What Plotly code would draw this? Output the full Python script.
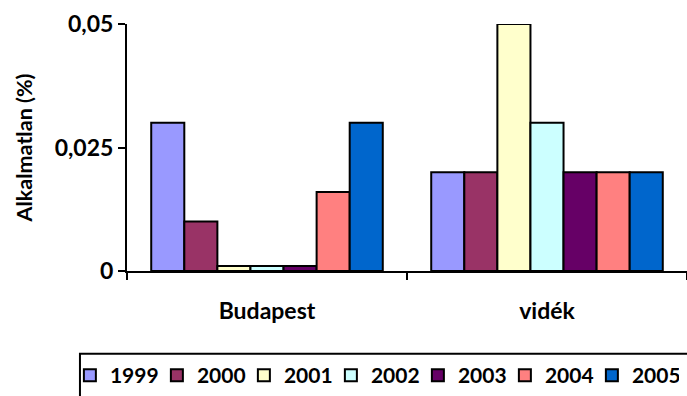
import plotly.graph_objects as go

categories = ["Budapest", "vidék"]
years = ["1999", "2000", "2001", "2002", "2003", "2004", "2005"]
values = {
    "1999": [0.03, 0.02],
    "2000": [0.01, 0.02],
    "2001": [0.001, 0.05],
    "2002": [0.001, 0.03],
    "2003": [0.001, 0.02],
    "2004": [0.016, 0.02],
    "2005": [0.03, 0.02],
}
colors = ["#9999FF", "#993366", "#FFFFCC", "#CCFFFF", "#660066", "#FF8080", "#0066CC"]
y_ticks = [0, 0.025, 0.05]
y_tick_labels = ["0", "0,025", "0,05"]

FONT = "Lato, 'Open Sans', sans-serif"

fig = go.Figure()
for year, color in zip(years, colors):
    fig.add_trace(go.Bar(
        x=categories,
        y=values[year],
        name=year,
        marker=dict(color=color, line=dict(color="black", width=2)),
    ))

# frame around the legend row
fig.add_shape(
    type="rect", xref="paper", yref="paper",
    x0=-0.084, x1=1.02, y0=-0.53, y1=-0.335,
    line=dict(color="black", width=2), fillcolor="rgba(0,0,0,0)",
)

fig.update_layout(
    width=687,
    height=396,
    margin=dict(l=127, r=0, t=24, b=124),
    paper_bgcolor="white",
    plot_bgcolor="white",
    barmode="group",
    bargap=0.173,
    bargroupgap=0,
    font=dict(family=FONT, size=16, color="black", weight="bold"),
    showlegend=True,
    legend=dict(
        orientation="h",
        x=-0.102,
        xanchor="left",
        y=-0.423,
        yanchor="middle",
        borderwidth=0,
        bgcolor="rgba(0,0,0,0)",
        font=dict(family=FONT, size=21, color="black", weight="bold"),
        entrywidth=42,
        entrywidthmode="pixels",
        itemwidth=30,
        traceorder="normal",
    ),
    xaxis=dict(
        showline=True,
        linecolor="black",
        linewidth=2,
        ticks="outside",
        tickson="boundaries",
        ticklen=7,
        tickwidth=2,
        tickcolor="black",
        ticklabelstandoff=18,
        tickfont=dict(family=FONT, size=23, weight="bold"),
        showgrid=False,
    ),
    yaxis=dict(
        range=[0, 0.05],
        tickvals=y_ticks,
        ticktext=y_tick_labels,
        showline=True,
        linecolor="black",
        linewidth=2,
        ticks="outside",
        ticklen=7,
        tickwidth=2,
        tickcolor="black",
        showgrid=False,
        zeroline=False,
        tickfont=dict(family=FONT, size=23, weight="bold"),
        title=dict(text="Alkalmatlan (%)", font=dict(family=FONT, size=21.5, weight="bold"), standoff=16),
    ),
)

fig.write_html("out.html")
